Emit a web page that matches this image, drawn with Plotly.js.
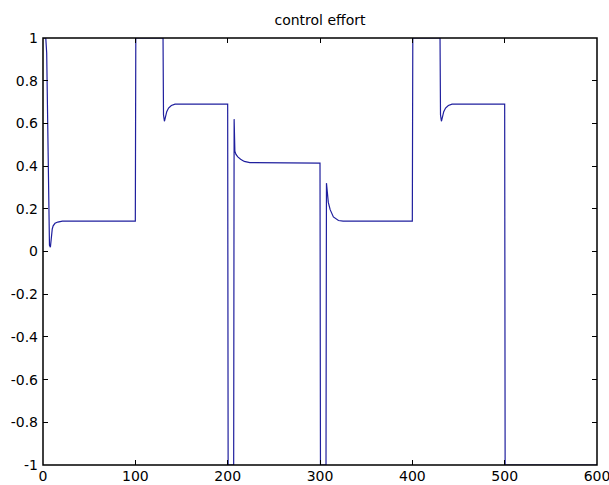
<!DOCTYPE html>
<html>
<head>
<meta charset="utf-8">
<script src="https://cdn.plot.ly/plotly-3.0.1.min.js"></script>
<style>html,body{margin:0;padding:0;background:#fff;}</style>
</head>
<body>
<div id="chart" style="width:609px;height:485px;"></div>
<script>
// time samples
const t = [0, 3, 4, 5, 6, 7, 8, 9, 10, 11, 13, 16, 21, 100,
  100.5, 130, 130.5, 131.5, 132.5, 134, 136, 139, 143, 200,
  200.5, 206.5, 207, 207.8, 209, 211, 214, 218, 224, 300,
  300.5, 306.5, 307, 308, 309, 311, 314.5, 320, 325, 400,
  400.5, 430, 430.5, 431.5, 432.5, 434, 436, 439, 443, 500,
  500.5, 600];
// control effort values
const u = [1, 1, 0.93, 0.52, 0.15, 0.03, 0.02, 0.07, 0.105, 0.12, 0.132, 0.138, 0.142, 0.142,
  1, 1, 0.64, 0.61, 0.635, 0.655, 0.672, 0.684, 0.69, 0.69,
  -1, -1, 0.62, 0.47, 0.455, 0.443, 0.432, 0.422, 0.416, 0.414,
  -1, -1, 0.32, 0.27, 0.23, 0.196, 0.162, 0.145, 0.142, 0.142,
  1, 1, 0.64, 0.61, 0.635, 0.655, 0.672, 0.684, 0.69, 0.69,
  -1, -1];
const xTickVals = [0, 100, 200, 300, 400, 500, 600];
const xTickText = ['0', '100', '200', '300', '400', '500', '600'];
const yTickVals = [1, 0.8, 0.6, 0.4, 0.2, 0, -0.2, -0.4, -0.6, -0.8, -1];
const yTickText = ['1', '0.8', '0.6', '0.4', '0.2', '0', '-0.2', '-0.4', '-0.6', '-0.8', '-1'];
const titleText = 'control effort';

const fontFam = 'DejaVu Sans, sans-serif';
const axisCommon = {
  showline: false, mirror: 'ticks',
  ticks: 'inside', ticklen: 5, tickcolor: '#000', tickwidth: 1,
  showgrid: false, zeroline: false, automargin: false,
  tickfont: {family: fontFam, size: 14, color: '#000'},
  tickmode: 'array', layer: 'above traces', ticklabeloverflow: 'allow'
};
const layout = {
  width: 609, height: 485,
  margin: {l: 43, r: 12, t: 38, b: 20, pad: 0},
  paper_bgcolor: '#fff', plot_bgcolor: '#fff',
  showlegend: false,
  title: {text: titleText, font: {family: fontFam, size: 14, color: '#000'},
          x: 0.5, xref: 'paper', y: 1 - 20.5/485, yref: 'container', yanchor: 'middle'},
  xaxis: Object.assign({}, axisCommon, {range: [0, 600], tickvals: xTickVals, ticktext: xTickText, ticklabelstandoff: 1}),
  yaxis: Object.assign({}, axisCommon, {range: [-1, 1], tickvals: yTickVals, ticktext: yTickText, ticklabelstandoff: 4}),
  shapes: [{type: 'rect', xref: 'paper', yref: 'paper', x0: 0, x1: 1, y0: 0, y1: 1,
            line: {color: '#000', width: 1.5}, fillcolor: 'rgba(0,0,0,0)', layer: 'above'}]
};
Plotly.newPlot('chart', [{
  x: t, y: u, type: 'scatter', mode: 'lines',
  line: {color: '#1f1f9e', width: 1.2}, hoverinfo: 'skip'
}], layout, {staticPlot: true, displayModeBar: false});
</script>
</body>
</html>
